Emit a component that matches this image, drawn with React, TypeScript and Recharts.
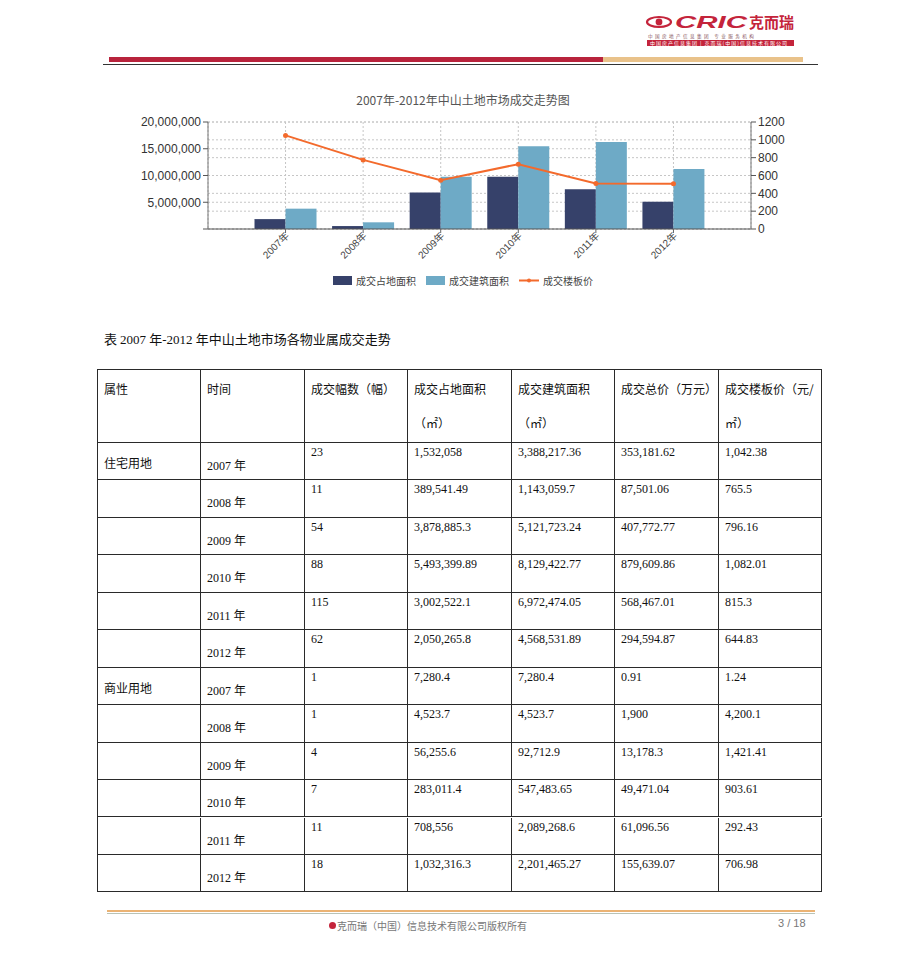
import React from "react"
import {
  ComposedChart,
  Bar,
  Line,
  XAxis,
  YAxis,
  CartesianGrid,
} from "recharts"

// chart data
const years = ["2007年", "2008年", "2009年", "2010年", "2011年", "2012年"]
const landArea = [1850000, 550000, 6800000, 9750000, 7450000, 5100000]
const buildArea = [3800000, 1250000, 9750000, 15450000, 16250000, 11200000]
const floorPrice = [1050, 775, 547, 727, 511, 507]

const leftTicks = [0, 5000000, 10000000, 15000000, 20000000]
const rightTicks = [0, 200, 400, 600, 800, 1000, 1200]

const seriesNames = ["成交占地面积", "成交建筑面积", "成交楼板价"]
const seriesColors = ["#36416a", "#6eaac6", "#f36a2c"]

// table
const headerLines = [["属性"], ["时间"], ["成交幅数（幅）"], ["成交占地面积", "（㎡）"], ["成交建筑面积", "（㎡）"], ["成交总价（万元）"], ["成交楼板价（元/", "㎡）"]]
const categories = ["住宅用地", "", "", "", "", "", "商业用地", "", "", "", "", ""]
const tableYears = ["2007", "2008", "2009", "2010", "2011", "2012", "2007", "2008", "2009", "2010", "2011", "2012"]
const counts = ["23", "11", "54", "88", "115", "62", "1", "1", "4", "7", "11", "18"]
const landCol = ["1,532,058", "389,541.49", "3,878,885.3", "5,493,399.89", "3,002,522.1", "2,050,265.8", "7,280.4", "4,523.7", "56,255.6", "283,011.4", "708,556", "1,032,316.3"]
const buildCol = ["3,388,217.36", "1,143,059.7", "5,121,723.24", "8,129,422.77", "6,972,474.05", "4,568,531.89", "7,280.4", "4,523.7", "92,712.9", "547,483.65", "2,089,268.6", "2,201,465.27"]
const totalCol = ["353,181.62", "87,501.06", "407,772.77", "879,609.86", "568,467.01", "294,594.87", "0.91", "1,900", "13,178.3", "49,471.04", "61,096.56", "155,639.07"]
const priceCol = ["1,042.38", "765.5", "796.16", "1,082.01", "815.3", "644.83", "1.24", "4,200.1", "1,421.41", "903.61", "292.43", "706.98"]

const colX = [98, 201, 305, 408, 512, 615, 719, 822]
const tableTop = 370
const headerH = 73
const rowH = 37.45

const SANS = '"Liberation Sans", Arial, "Noto Sans CJK SC", sans-serif'
const CJK = '"Noto Sans CJK SC", "Liberation Sans", sans-serif'
const SERIF = '"Liberation Serif", "Noto Sans CJK SC", serif'

const chartData = years.map((y, i) => ({
  year: y,
  land: landArea[i],
  build: buildArea[i],
  price: floorPrice[i],
}))

function YearTick(props: any) {
  const { x, y, payload } = props
  return (
    <g transform={`translate(${x},${y})`}>
      <text transform="rotate(-45)" textAnchor="end" x={2} y={4} fontSize={10} fill="#444" fontFamily={SANS}>
        {payload.value}
      </text>
    </g>
  )
}

function Logo() {
  return (
    <div style={{ position: "absolute", left: 645, top: 12, width: 152, height: 36 }}>
      <svg width={152} height={36} style={{ position: "absolute", left: 0, top: 0 }}>
        <ellipse cx={14} cy={10} rx={12} ry={5} fill="none" stroke="#c4243b" strokeWidth={2.2} />
        <circle cx={14} cy={10} r={3.4} fill="#c4243b" />
        <text x={30} y={16} fontSize={17} fontWeight={900} fontStyle="italic" fill="#c4243b" fontFamily={SANS} textLength={72} lengthAdjust="spacingAndGlyphs">CRIC</text>
        <text x={104} y={16} fontSize={15} fontWeight={700} fill="#c4243b" fontFamily={CJK}>克而瑞</text>
        <text x={3} y={25.5} fontSize={4.6} fill="#8a5560" fontFamily={CJK} letterSpacing={2.4}>中国房地产信息集团 专业服务机构</text>
        <rect x={2} y={28} width={147} height={6} fill="#c4243b" />
        <text x={5} y={33} fontSize={5} fill="#fff" fontFamily={CJK} letterSpacing={1}>中国房产信息集团 | 克而瑞(中国)信息技术有限公司</text>
      </svg>
    </div>
  )
}

function Legend() {
  const items = seriesNames.map((name, i) => ({ name, color: seriesColors[i], kind: i < 2 ? "bar" : "line" }))
  const lefts = [333, 426, 519]
  return (
    <div>
      {items.map((it, i) => (
        <div key={it.name} style={{ position: "absolute", left: lefts[i], top: 273, display: "flex", alignItems: "center", gap: 4, whiteSpace: "nowrap" }}>
          {it.kind === "bar" ? (
            <div style={{ width: 19, height: 9, background: it.color }} />
          ) : (
            <svg width={20} height={9}>
              <line x1={0} y1={4.5} x2={20} y2={4.5} stroke={it.color} strokeWidth={2} />
              <circle cx={10} cy={4.5} r={2} fill={it.color} />
            </svg>
          )}
          <span style={{ fontFamily: CJK, fontSize: 10, color: "#444" }}>{it.name}</span>
        </div>
      ))}
    </div>
  )
}

function Table() {
  const cells: React.ReactNode[] = []
  const border = "1.6px solid #2a2a2a"
  headerLines.forEach((lines, j) => {
    cells.push(
      <div key={`h${j}`} style={{ position: "absolute", left: colX[j], top: tableTop, width: colX[j + 1] - colX[j], height: headerH, borderRight: border, borderBottom: border, boxSizing: "border-box", padding: "10px 0 0 6px", fontFamily: CJK, fontSize: 12, color: "#111", lineHeight: "34px", whiteSpace: "nowrap", overflow: "hidden" }}>
        {lines.map((l, k) => <div key={k} style={{ height: 34, marginTop: k === 0 ? -8 : 0 }}>{l}</div>)}
      </div>
    )
  })
  const cols = [counts, landCol, buildCol, totalCol, priceCol]
  tableYears.forEach((yr, i) => {
    const top = tableTop + headerH + i * rowH
    const base = { position: "absolute" as const, top, height: rowH, borderRight: border, borderBottom: border, boxSizing: "border-box" as const, overflow: "hidden", whiteSpace: "nowrap" as const, color: "#111" }
    cells.push(
      <div key={`c${i}`} style={{ ...base, left: colX[0], width: colX[1] - colX[0], fontFamily: CJK, fontSize: 12, padding: "11px 0 0 6px" }}>{categories[i]}</div>
    )
    cells.push(
      <div key={`y${i}`} style={{ ...base, left: colX[1], width: colX[2] - colX[1], fontFamily: SERIF, fontSize: 12, padding: "13px 0 0 6px" }}>
        {yr} <span style={{ fontFamily: CJK, fontSize: 12 }}>年</span>
      </div>
    )
    cols.forEach((col, k) => {
      cells.push(
        <div key={`v${i}-${k}`} style={{ ...base, left: colX[k + 2], width: colX[k + 3] - colX[k + 2], fontFamily: SERIF, fontSize: 12, padding: "2px 0 0 6px" }}>{col[i]}</div>
      )
    })
  })
  const bottom = tableTop + headerH + tableYears.length * rowH
  return (
    <div>
      <div style={{ position: "absolute", left: colX[0] - 1, top: tableTop - 1, width: colX[7] - colX[0] + 1, height: bottom - tableTop + 1, borderLeft: border, borderTop: border, boxSizing: "border-box" }} />
      {cells}
    </div>
  )
}

export default function App() {
  return (
    <div style={{ position: "absolute", left: 0, top: 0, width: 920, height: 976, background: "#fff", overflow: "hidden" }}>
      <Logo />
      {/* header bar */}
      <div style={{ position: "absolute", left: 109, top: 57, width: 494, height: 5, background: "#b8233c" }} />
      <div style={{ position: "absolute", left: 603, top: 57, width: 200, height: 5, background: "#e9c28a" }} />
      <div style={{ position: "absolute", left: 103, top: 64, width: 715, height: 1, background: "#333" }} />

      {/* chart title */}
      <div style={{ position: "absolute", left: 0, top: 91, width: 926, textAlign: "center", fontFamily: CJK, fontSize: 12, color: "#555" }}>
        2007年-2012年中山土地市场成交走势图
      </div>

      <div style={{ position: "absolute", left: 0, top: 0 }}>
        <ComposedChart width={920} height={300} data={chartData} margin={{ top: 122, right: 109, bottom: 31, left: 108 }} barCategoryGap="10%" barGap={0}>
          <CartesianGrid yAxisId="left" vertical={false} stroke="#c6c6c6" strokeDasharray="2 2" />
          <CartesianGrid yAxisId="right" stroke="#c6c6c6" strokeDasharray="2 2" />
          <XAxis dataKey="year" height={40} padding={{ left: 38.75, right: 38.75 }} tick={<YearTick />} tickSize={4} tickLine={{ stroke: "#666" }} axisLine={{ stroke: "#555" }} interval={0} />
          <YAxis yAxisId="left" width={100} domain={[0, 20000000]} ticks={leftTicks} interval={0} tickFormatter={(v: number) => (v === 0 ? "" : v.toLocaleString("en-US"))} tick={{ fontSize: 12, fill: "#333", fontFamily: SANS }} tickSize={5} tickMargin={2} axisLine={{ stroke: "#777" }} tickLine={{ stroke: "#555" }} />
          <YAxis yAxisId="right" orientation="right" width={60} domain={[0, 1200]} ticks={rightTicks} interval={0} tick={{ fontSize: 12, fill: "#333", fontFamily: SANS }} tickSize={5} tickMargin={2} axisLine={{ stroke: "#777" }} tickLine={{ stroke: "#555" }} />
          <Bar yAxisId="left" dataKey="land" name={seriesNames[0]} fill={seriesColors[0]} isAnimationActive={false} />
          <Bar yAxisId="left" dataKey="build" name={seriesNames[1]} fill={seriesColors[1]} isAnimationActive={false} />
          <Line yAxisId="right" type="linear" dataKey="price" name={seriesNames[2]} stroke={seriesColors[2]} strokeWidth={2} dot={{ r: 2.5, fill: seriesColors[2], stroke: seriesColors[2], strokeWidth: 0 }} isAnimationActive={false} />
        </ComposedChart>
      </div>
      <Legend />

      {/* table caption */}
      <div style={{ position: "absolute", left: 104, top: 329, fontSize: 13, color: "#111", whiteSpace: "nowrap" }}>
        <span style={{ fontFamily: CJK }}>表 </span>
        <span style={{ fontFamily: SERIF }}>2007 </span>
        <span style={{ fontFamily: CJK }}>年</span>
        <span style={{ fontFamily: SERIF }}>-2012 </span>
        <span style={{ fontFamily: CJK }}>年中山土地市场各物业属成交走势</span>
      </div>

      <Table />

      {/* footer */}
      <div style={{ position: "absolute", left: 107, top: 910, width: 708, height: 2, background: "#ebb374" }} />
      <div style={{ position: "absolute", left: 107, top: 913, width: 708, height: 1, background: "#b9c3b6" }} />
      <div style={{ position: "absolute", left: 329, top: 918, fontFamily: CJK, fontSize: 10, color: "#777", whiteSpace: "nowrap", display: "flex", alignItems: "center" }}>
        <span style={{ display: "inline-block", width: 7, height: 7, borderRadius: 4, background: "#c4243b", marginRight: 1 }} />
        克而瑞（中国）信息技术有限公司版权所有
      </div>
      <div style={{ position: "absolute", left: 778, top: 917, fontFamily: SANS, fontSize: 11, color: "#777" }}>3 / 18</div>
    </div>
  )
}
